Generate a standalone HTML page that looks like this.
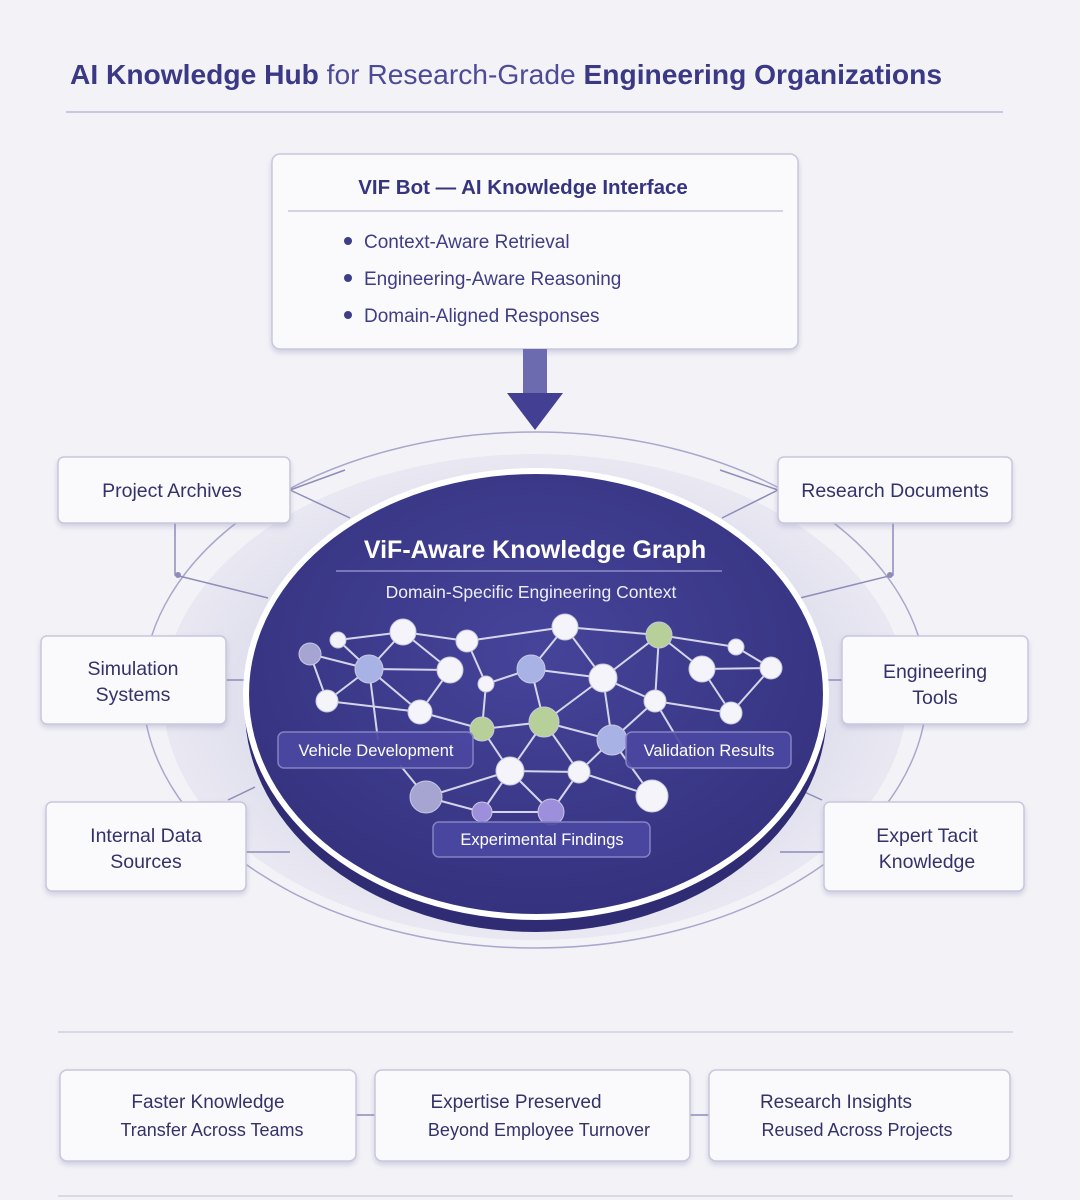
<!DOCTYPE html>
<html><head><meta charset="utf-8"><style>
html,body{margin:0;padding:0;background:#f3f3f7;}
svg{display:block;font-family:"Liberation Sans",sans-serif;}
</style></head><body>
<svg width="1080" height="1200" viewBox="0 0 1080 1200" xmlns="http://www.w3.org/2000/svg">
<defs>
<filter id="sh" x="-10%" y="-10%" width="120%" height="130%"><feDropShadow dx="0" dy="3" stdDeviation="3" flood-color="#8a88b8" flood-opacity="0.35"/></filter>
<radialGradient id="disk" cx="50%" cy="40%" r="60%"><stop offset="0" stop-color="#46449a"/><stop offset="1" stop-color="#35327f"/></radialGradient>
<radialGradient id="band" cx="50%" cy="50%" r="50%"><stop offset="0.7" stop-color="#dddcec"/><stop offset="1" stop-color="#e9e8f2"/></radialGradient>
</defs>
<rect width="1080" height="1200" fill="#f3f3f7"/>
<text x="70" y="84" font-size="28" font-weight="bold" fill="#3b3886" textLength="872" lengthAdjust="spacingAndGlyphs">AI Knowledge Hub <tspan font-weight="normal" fill="#4d4a98">for Research-Grade</tspan> Engineering Organizations</text>
<line x1="66" y1="112" x2="1003" y2="112" stroke="#c9c8de" stroke-width="2"/>

<ellipse cx="535" cy="690" rx="392" ry="258" fill="none" stroke="#a9a8cc" stroke-width="1.5"/>
<ellipse cx="535" cy="697" rx="372" ry="243" fill="url(#band)"/>

<g stroke="#8e8cb8" stroke-width="1.5" fill="none">
<line x1="290" y1="490" x2="345" y2="470"/>
<line x1="290" y1="490" x2="350" y2="518"/>
<line x1="778" y1="490" x2="720" y2="470"/>
<line x1="778" y1="490" x2="722" y2="518"/>
<polyline points="175,523 175,575 268,598"/>
<polyline points="893,523 893,575 800,598"/>
<line x1="226" y1="680" x2="245" y2="680"/>
<line x1="825" y1="680" x2="842" y2="680"/>
<line x1="246" y1="852" x2="290" y2="852"/>
<line x1="780" y1="852" x2="824" y2="852"/>
<line x1="228" y1="800" x2="255" y2="787"/>
<line x1="822" y1="800" x2="800" y2="790"/>
<line x1="356" y1="1115" x2="375" y2="1115"/>
<line x1="690" y1="1115" x2="709" y2="1115"/>
</g>
<circle cx="178" cy="575" r="3" fill="#8e8cb8"/><circle cx="890" cy="575" r="3" fill="#8e8cb8"/>

<ellipse cx="536" cy="710" rx="291" ry="222" fill="#2f2c74"/>
<ellipse cx="536" cy="694" rx="293" ry="226" fill="#ffffff"/>
<ellipse cx="536" cy="694" rx="287" ry="220" fill="url(#disk)"/>

<text x="535" y="558" text-anchor="middle" font-size="25" font-weight="bold" fill="#ffffff">ViF-Aware Knowledge Graph</text>
<line x1="336" y1="571" x2="722" y2="571" stroke="#8e8cc8" stroke-width="1.5"/>
<text x="531" y="598" text-anchor="middle" font-size="17.5" fill="#eeeefa">Domain-Specific Engineering Context</text>

<g stroke="#e6e6f4" stroke-width="2" opacity="0.9">
<line x1="310" y1="654" x2="369" y2="669"/><line x1="310" y1="654" x2="327" y2="701"/>
<line x1="338" y1="640" x2="403" y2="632"/><line x1="338" y1="640" x2="369" y2="669"/>
<line x1="403" y1="632" x2="369" y2="669"/><line x1="403" y1="632" x2="450" y2="670"/><line x1="403" y1="632" x2="467" y2="641"/>
<line x1="369" y1="669" x2="450" y2="670"/><line x1="369" y1="669" x2="327" y2="701"/><line x1="369" y1="669" x2="420" y2="712"/><line x1="369" y1="669" x2="378" y2="740"/>
<line x1="327" y1="701" x2="420" y2="712"/><line x1="450" y1="670" x2="420" y2="712"/>
<line x1="467" y1="641" x2="486" y2="684"/><line x1="467" y1="641" x2="565" y2="627"/>
<line x1="486" y1="684" x2="531" y2="669"/><line x1="486" y1="684" x2="482" y2="729"/>
<line x1="531" y1="669" x2="603" y2="678"/><line x1="531" y1="669" x2="565" y2="627"/><line x1="531" y1="669" x2="544" y2="722"/>
<line x1="565" y1="627" x2="659" y2="635"/><line x1="565" y1="627" x2="603" y2="678"/>
<line x1="603" y1="678" x2="659" y2="635"/><line x1="603" y1="678" x2="544" y2="722"/><line x1="603" y1="678" x2="655" y2="701"/><line x1="603" y1="678" x2="612" y2="740"/>
<line x1="659" y1="635" x2="702" y2="669"/><line x1="659" y1="635" x2="736" y2="647"/><line x1="659" y1="635" x2="655" y2="701"/>
<line x1="702" y1="669" x2="771" y2="668"/><line x1="736" y1="647" x2="771" y2="668"/><line x1="702" y1="669" x2="731" y2="713"/><line x1="771" y1="668" x2="731" y2="713"/>
<line x1="655" y1="701" x2="731" y2="713"/><line x1="655" y1="701" x2="612" y2="740"/><line x1="655" y1="701" x2="690" y2="760"/>
<line x1="420" y1="712" x2="482" y2="729"/><line x1="482" y1="729" x2="544" y2="722"/><line x1="544" y1="722" x2="612" y2="740"/>
<line x1="482" y1="729" x2="510" y2="771"/><line x1="544" y1="722" x2="510" y2="771"/><line x1="544" y1="722" x2="579" y2="772"/>
<line x1="612" y1="740" x2="579" y2="772"/><line x1="612" y1="740" x2="652" y2="796"/>
<line x1="510" y1="771" x2="579" y2="772"/><line x1="510" y1="771" x2="426" y2="797"/><line x1="510" y1="771" x2="482" y2="812"/><line x1="510" y1="771" x2="551" y2="812"/>
<line x1="579" y1="772" x2="652" y2="796"/><line x1="579" y1="772" x2="551" y2="812"/>
<line x1="426" y1="797" x2="482" y2="812"/><line x1="482" y1="812" x2="551" y2="812"/><line x1="426" y1="797" x2="400" y2="765"/>
</g>
<g stroke="#c8c8e0" stroke-width="1">
<circle cx="310" cy="654" r="11" fill="#a6a5d2"/>
<circle cx="338" cy="640" r="8" fill="#f2f2f8"/>
<circle cx="403" cy="632" r="13" fill="#f4f4fa"/>
<circle cx="369" cy="669" r="14" fill="#a9b2e4"/>
<circle cx="467" cy="641" r="11" fill="#f4f4fa"/>
<circle cx="450" cy="670" r="13" fill="#f4f4fa"/>
<circle cx="327" cy="701" r="11" fill="#f4f4fa"/>
<circle cx="420" cy="712" r="12" fill="#f4f4fa"/>
<circle cx="486" cy="684" r="8" fill="#f4f4fa"/>
<circle cx="531" cy="669" r="14" fill="#a9b2e4"/>
<circle cx="565" cy="627" r="13" fill="#f4f4fa"/>
<circle cx="603" cy="678" r="14" fill="#f4f4fa"/>
<circle cx="659" cy="635" r="13" fill="#b7cf98"/>
<circle cx="702" cy="669" r="13" fill="#f4f4fa"/>
<circle cx="736" cy="647" r="8" fill="#f4f4fa"/>
<circle cx="771" cy="668" r="11" fill="#f4f4fa"/>
<circle cx="655" cy="701" r="11" fill="#f4f4fa"/>
<circle cx="731" cy="713" r="11" fill="#f4f4fa"/>
<circle cx="482" cy="729" r="12" fill="#b7cf98"/>
<circle cx="544" cy="722" r="15" fill="#b7cf98"/>
<circle cx="612" cy="740" r="15" fill="#a9b2e4"/>
<circle cx="510" cy="771" r="14" fill="#f4f4fa"/>
<circle cx="579" cy="772" r="11" fill="#f4f4fa"/>
<circle cx="652" cy="796" r="16" fill="#f4f4fa"/>
<circle cx="426" cy="797" r="16" fill="#a6a5d2"/>
<circle cx="482" cy="812" r="10" fill="#9d8fdc"/>
<circle cx="551" cy="812" r="13" fill="#9d8fdc"/>
</g>
<g stroke="#8482c4" stroke-width="1.5" fill="#4b48a2" fill-opacity="0.92">
<rect x="278" y="732" width="195" height="36" rx="6"/>
<rect x="626" y="732" width="165" height="36" rx="6"/>
<rect x="433" y="822" width="217" height="35" rx="6"/>
</g>
<g fill="#ffffff" font-size="16.5" text-anchor="middle">
<text x="376" y="756">Vehicle Development</text>
<text x="709" y="756">Validation Results</text>
<text x="542" y="845">Experimental Findings</text>
</g>

<rect x="272" y="154" width="526" height="195" rx="8" fill="#fafafc" stroke="#c8c7dc" stroke-width="1.5" filter="url(#sh)"/>
<text x="523" y="194" text-anchor="middle" font-size="20.5" font-weight="bold" fill="#353480">VIF Bot — AI Knowledge Interface</text>
<line x1="288" y1="211" x2="783" y2="211" stroke="#c8c7dc" stroke-width="1.5"/>
<g fill="#3e3d86" font-size="19">
<circle cx="348" cy="241" r="4"/><text x="364" y="248">Context-Aware Retrieval</text>
<circle cx="348" cy="278" r="4"/><text x="364" y="285">Engineering-Aware Reasoning</text>
<circle cx="348" cy="315" r="4"/><text x="364" y="322">Domain-Aligned Responses</text>
</g>
<rect x="523" y="349" width="24" height="46" fill="#6d6bb0"/>
<polygon points="507,393 563,393 535,430" fill="#433f92"/>

<g fill="#fafafc" stroke="#c8c7dc" stroke-width="1.5" filter="url(#sh)">
<rect x="58" y="457" width="232" height="66" rx="6"/>
<rect x="778" y="457" width="234" height="66" rx="6"/>
<rect x="41" y="636" width="185" height="88" rx="6"/>
<rect x="842" y="636" width="186" height="88" rx="6"/>
<rect x="46" y="802" width="200" height="89" rx="6"/>
<rect x="824" y="802" width="200" height="89" rx="6"/>
<rect x="60" y="1070" width="296" height="91" rx="7"/>
<rect x="375" y="1070" width="315" height="91" rx="7"/>
<rect x="709" y="1070" width="301" height="91" rx="7"/>
</g>
<g fill="#33326a" font-size="19.5" text-anchor="middle">
<text x="172" y="497">Project Archives</text>
<text x="895" y="497">Research Documents</text>
<text x="133" y="675">Simulation</text><text x="133" y="701">Systems</text>
<text x="935" y="678">Engineering</text><text x="935" y="704">Tools</text>
<text x="146" y="842">Internal Data</text><text x="146" y="868">Sources</text>
<text x="927" y="842">Expert Tacit</text><text x="927" y="868">Knowledge</text>
</g>

<line x1="58" y1="1032" x2="1013" y2="1032" stroke="#d0cfe2" stroke-width="1.5"/>
<g fill="#33326a" font-size="19" text-anchor="middle">
<text x="208" y="1108">Faster Knowledge</text><text x="212" y="1136" font-size="18">Transfer Across Teams</text>
<text x="516" y="1108">Expertise Preserved</text><text x="539" y="1136" font-size="18">Beyond Employee Turnover</text>
<text x="836" y="1108">Research Insights</text><text x="857" y="1136" font-size="18">Reused Across Projects</text>
</g>
<line x1="58" y1="1196" x2="1013" y2="1196" stroke="#d0cfe2" stroke-width="1.5"/>
</svg>
</body></html>
